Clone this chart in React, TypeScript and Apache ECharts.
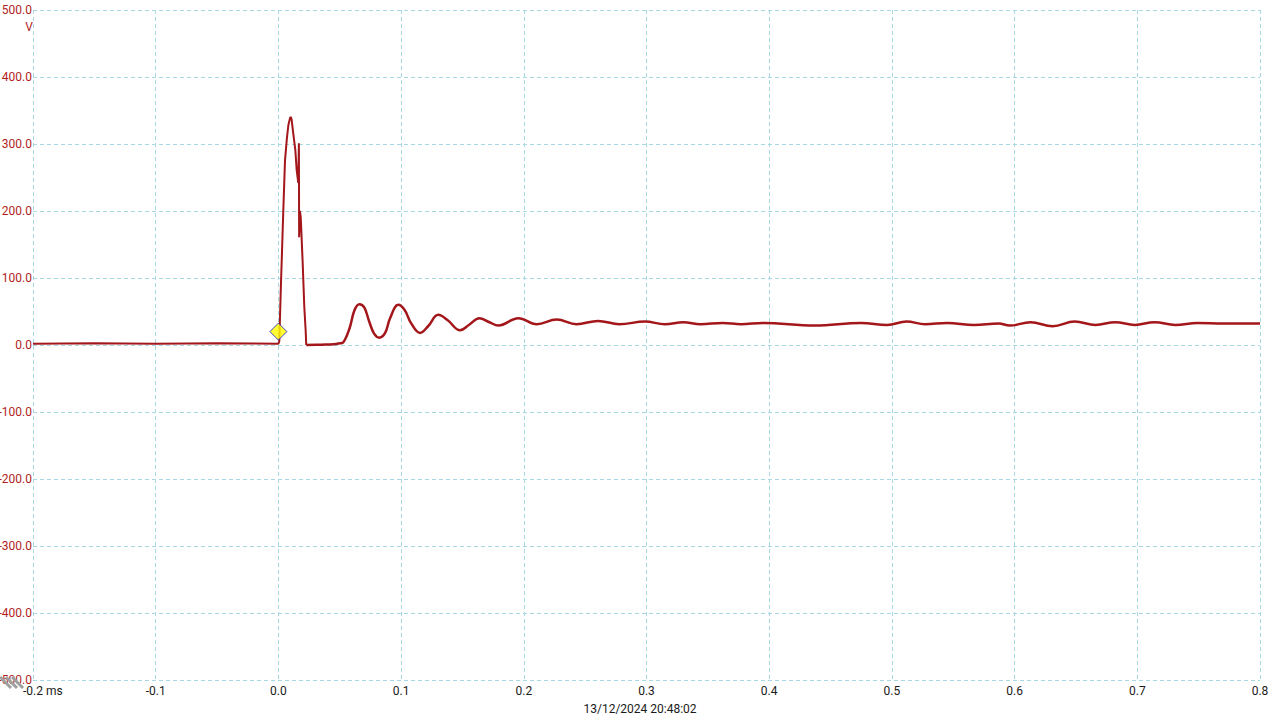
import React, { useEffect, useRef } from "react";
import * as echarts from "echarts";

// Pulse portion (time in ms, voltage in V)
const pulseTimes = [-0.2, -0.15, -0.1, -0.05, 0.0, 0.0007, 0.0013, 0.0021, 0.0029, 0.004, 0.0054, 0.0068, 0.0081, 0.0095, 0.0103, 0.0108, 0.0121, 0.0138, 0.0149, 0.0162, 0.0167, 0.0169, 0.0175, 0.0182, 0.0198, 0.0211, 0.0222, 0.0227];
const pulseVolts = [2, 2.5, 2, 2.5, 2, 5, 42, 92, 137, 201, 276, 306, 328, 339, 340, 336, 316, 291, 261, 242, 301, 161, 200, 191, 122, 57, 22, 0];

// Ringing / settling portion
const ringTimes = [0.0227, 0.035, 0.045, 0.05, 0.0529, 0.058, 0.062, 0.066, 0.07, 0.074, 0.078, 0.0822, 0.087, 0.091, 0.0977, 0.103, 0.108, 0.1154, 0.122, 0.1303, 0.138, 0.148, 0.156, 0.1637, 0.172, 0.1792, 0.1955, 0.2105, 0.2268, 0.243, 0.2605, 0.278, 0.2987, 0.315, 0.33, 0.344, 0.362, 0.377, 0.395, 0.437, 0.475, 0.496, 0.512, 0.527, 0.545, 0.567, 0.587, 0.596, 0.613, 0.631, 0.649, 0.666, 0.682, 0.698, 0.714, 0.731, 0.749, 0.77, 0.8];
const ringVolts = [0, 0.5, 1, 2.5, 4, 25, 52, 61, 56, 35, 17, 11, 18, 40, 60, 52, 33, 18, 28, 45, 37, 22, 31, 40, 34, 29, 40, 31, 38, 31, 36, 31, 35, 31, 34, 31, 33, 31, 33, 29, 33, 30, 35, 31, 33, 30, 32, 29, 34, 28, 35, 30, 34, 30, 34, 30, 33, 32, 32];

// Trigger marker
const triggerPoint = [0, 20];

const xTicksMin = -0.2;
const xTicksMax = 0.8;
const yTicksMin = -500;
const yTicksMax = 500;

const traceColor = "#a3161a";
const gridColor = "#a6d9e4";

export default function App() {
  const ref = useRef<HTMLDivElement>(null);
  useEffect(() => {
    if (!ref.current) return;
    const chart = echarts.init(ref.current, undefined, { renderer: "svg" });
    const pulseData = pulseTimes.map((t, i) => [t, pulseVolts[i]]);
    const ringData = ringTimes.map((t, i) => [t, ringVolts[i]]);
    chart.setOption({
      animation: false,
      backgroundColor: "#ffffff",
      grid: { left: 33, right: 20, top: 10, bottom: 40, containLabel: false, outerBoundsMode: "none" },
      xAxis: {
        type: "value",
        min: xTicksMin,
        max: xTicksMax,
        interval: 0.1,
        axisLine: { show: false },
        axisTick: { show: false },
        splitLine: { show: true, lineStyle: { color: gridColor, type: [4, 3], width: 1 } },
        axisLabel: {
          color: "#1a1a1a",
          fontFamily: "Roboto",
          fontSize: 12,
          margin: 5,
          formatter: (v: number) => (Math.abs(v) < 1e-9 ? "0.0" : v.toFixed(1)),
        },
      },
      yAxis: {
        type: "value",
        min: yTicksMin,
        max: yTicksMax,
        interval: 100,
        axisLine: { show: false },
        axisTick: { show: false },
        splitLine: { show: true, lineStyle: { color: gridColor, type: [4, 3], width: 1 } },
        axisLabel: {
          color: "#b01e1e",
          fontFamily: "Roboto",
          fontSize: 12,
          margin: 1,
          formatter: (v: number) => (Math.abs(v) < 1e-9 ? "0.0" : v.toFixed(1)),
        },
      },
      graphic: [
        { type: "line", shape: { x1: 0, y1: 677, x2: 11, y2: 688 }, style: { stroke: "#a0a0a0", lineWidth: 3 }, z: 1 },
        { type: "line", shape: { x1: 6, y1: 677, x2: 17, y2: 688 }, style: { stroke: "#a0a0a0", lineWidth: 3 }, z: 1 },
        { type: "line", shape: { x1: 12, y1: 677, x2: 23, y2: 688 }, style: { stroke: "#a0a0a0", lineWidth: 3 }, z: 1 },
        { type: "text", x: 33, y: 27, style: { text: "V", fill: "#b01e1e", font: "12px Roboto", align: "right", verticalAlign: "middle" } },
        { type: "text", x: 46, y: 691, style: { text: "ms", fill: "#1a1a1a", font: "12px Roboto", align: "left", verticalAlign: "middle" } },
        { type: "text", x: 640, y: 709, style: { text: "13/12/2024 20:48:02", fill: "#1a1a1a", font: "12px Roboto", align: "center", verticalAlign: "middle" } },
      ],
      series: [
        {
          type: "line",
          data: pulseData,
          showSymbol: false,
          lineStyle: { color: traceColor, width: 2 },
          z: 3,
        },
        {
          type: "line",
          data: ringData,
          showSymbol: false,
          smooth: 0.4,
          lineStyle: { color: traceColor, width: 2.5 },
          z: 3,
        },
        {
          type: "scatter",
          data: [triggerPoint],
          symbol: "diamond",
          symbolSize: [17, 17],
          itemStyle: { color: "#ffff00", borderColor: "#1a1ac8", borderWidth: 1 },
          z: 5,
        },
      ],
    });
    return () => chart.dispose();
  }, []);
  return <div ref={ref} style={{ position: "fixed", left: 0, top: 0, width: 1280, height: 720 }} />;
}
